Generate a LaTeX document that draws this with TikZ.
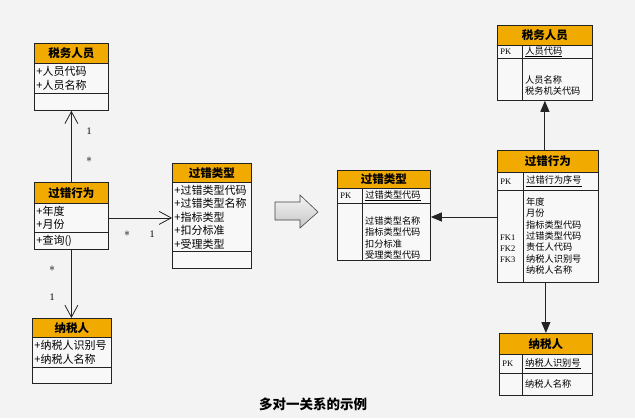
\documentclass[tikz,border=0pt]{standalone}
\usepackage{fontspec}
\setmainfont{Noto Sans CJK SC}
\newfontfamily\keyfont{Liberation Serif}
\usetikzlibrary{arrows.meta,calc}
\definecolor{HdrClr}{RGB}{240,170,0}
\definecolor{BgClr}{RGB}{243,243,243}
\definecolor{CellClr}{RGB}{248,248,248}
\definecolor{LineClr}{RGB}{35,35,35}

\begin{document}
\begin{tikzpicture}[x=1pt,y=-1pt,
  hdr/.style={draw=LineClr,fill=HdrClr,line width=.8pt,inner sep=0pt,anchor=north west,font=\bfseries\fontsize{11.5}{13}\selectfont},
  cell/.style={draw=LineClr,fill=CellClr,line width=.8pt,inner sep=0pt,anchor=north west},
  umlbody/.style={cell,align=left,inner xsep=2pt,font=\fontsize{11}{13.5}\selectfont},
  keycell/.style={cell,align=left,inner xsep=3pt,font=\keyfont\fontsize{8.5}{11.4}\selectfont},
  fldcell/.style={cell,align=left,inner xsep=3pt,font=\fontsize{9.2}{11.4}\selectfont},
  ertxt/.style={inner sep=0pt,align=left,anchor=north west,font=\fontsize{9.2}{11.4}\selectfont},
  keytxt/.style={inner sep=0pt,align=left,anchor=north west,font=\keyfont\fontsize{8.5}{11.4}\selectfont},
  mult/.style={inner sep=0pt,font=\keyfont\fontsize{10}{12}\selectfont},
  uarr/.style={draw=LineClr,line width=.8pt,-{Straight Barb[length=12pt,width=13pt]}},
  earr/.style={draw=LineClr,line width=1pt,-{Triangle[length=11pt,width=9pt]}}]

\path[fill=BgClr] (0,0) rectangle (635,418);

% class diagram
\node[hdr,minimum width=74pt,minimum height=20pt] (sw-h) at (34,43) {税务人员};
\node[umlbody,text width=70pt,minimum height=30pt] (sw-a) at (34,63) {+人员代码\\+人员名称};
\node[umlbody,text width=70pt,minimum height=17pt] (sw-m) at (34,93) {};

\node[hdr,minimum width=74pt,minimum height=21pt] (gx-h) at (34,182) {过错行为};
\node[umlbody,text width=70pt,minimum height=29pt] (gx-a) at (34,203) {+年度\\+月份};
\node[umlbody,text width=70pt,minimum height=17pt] (gx-m) at (34,232) {+查询()};

\node[hdr,minimum width=79pt,minimum height=19pt] (gl-h) at (172,163) {过错类型};
\node[umlbody,text width=75pt,minimum height=69pt] (gl-a) at (172,182) {+过错类型代码\\+过错类型名称\\+指标类型\\+扣分标准\\+受理类型};
\node[umlbody,text width=75pt,minimum height=17pt] (gl-m) at (172,251) {};

\node[hdr,minimum width=79pt,minimum height=19pt] (ns-h) at (32,318) {纳税人};
\node[umlbody,text width=75pt,minimum height=30pt] (ns-a) at (32,337) {+纳税人识别号\\+纳税人名称};
\node[umlbody,text width=75pt,minimum height=16pt] (ns-m) at (32,367) {};

\draw[uarr] (gx-h.north) -- (sw-m.south);
\draw[uarr] (gx-a.east) -- (gx-a.east -| gl-a.west);
\draw[uarr] (gx-m.south) -- (gx-m.south |- ns-h.north);

\node[mult] (m1) at (89,131) {1};
\node[mult] (m2) at (89,160) {\large$\ast$};
\node[mult] (m3) at (127,234) {\large$\ast$};
\node[mult] (m4) at (152,234) {1};
\node[mult] (m5) at (52,269) {\large$\ast$};
\node[mult] (m6) at (52,297) {1};

% transform arrow
\draw[draw=LineClr!85,line width=.6pt,top color=gray!8,bottom color=gray!45]
  (275,202) -- (300,202) -- (300,195) -- (318,212) -- (300,228) -- (300,220) -- (275,220) -- cycle;

% table diagram
\node[hdr,minimum width=93pt,minimum height=18pt] (egl-h) at (337,170) {过错类型};
\node[keycell,text width=19pt,minimum height=15pt] (egl-pk) at (337,188) {PK};
\node[fldcell,text width=62pt,minimum height=15pt] (egl-pf) at (362,188) {\underline{过错类型代码}};
\node[cell,minimum width=25pt,minimum height=57pt] (egl-bk) at (337,203) {};
\node[cell,minimum width=68pt,minimum height=57pt] (egl-bf) at (362,203) {};
\node[ertxt] (egl-t) at (365,216.4) {过错类型名称\\指标类型代码\\扣分标准\\受理类型代码};

\node[hdr,minimum width=95pt,minimum height=20pt] (esw-h) at (497,25) {税务人员};
\node[keycell,text width=19pt,minimum height=13pt] (esw-pk) at (497,45) {PK};
\node[fldcell,text width=64pt,minimum height=13pt] (esw-pf) at (522,45) {\underline{人员代码}};
\node[cell,minimum width=25pt,minimum height=42pt] (esw-bk) at (497,58) {};
\node[cell,minimum width=70pt,minimum height=42pt] (esw-bf) at (522,58) {};
\node[ertxt] (esw-t) at (525,75.4) {人员名称\\税务机关代码};

\node[hdr,minimum width=101pt,minimum height=22pt] (egx-h) at (497,150) {过错行为};
\node[keycell,text width=20pt,minimum height=18pt] (egx-pk) at (497,172) {PK};
\node[fldcell,text width=69pt,minimum height=18pt] (egx-pf) at (523,172) {\underline{过错行为序号}};
\node[cell,minimum width=26pt,minimum height=92pt] (egx-bk) at (497,190) {};
\node[cell,minimum width=75pt,minimum height=92pt] (egx-bf) at (523,190) {};
\node[ertxt] (egx-t) at (526,197.4) {年度\\月份\\指标类型代码\\过错类型代码\\责任人代码\\纳税人识别号\\纳税人名称};
\node[keytxt] (egx-k) at (500,234.2) {FK1\\FK2\\FK3};

\node[hdr,minimum width=93pt,minimum height=21pt] (ens-h) at (499,333) {纳税人};
\node[keycell,text width=17pt,minimum height=19pt] (ens-pk) at (499,354) {PK};
\node[fldcell,text width=64pt,minimum height=19pt] (ens-pf) at (522,354) {\underline{纳税人识别号}};
\node[cell,minimum width=23pt,minimum height=22pt] (ens-bk) at (499,373) {};
\node[cell,minimum width=70pt,minimum height=22pt] (ens-bf) at (522,373) {};
\node[ertxt] (ens-t) at (525,379.4) {纳税人名称};

\coordinate (lk) at (497,217);
\draw[earr] (lk) -- (lk -| egl-bf.east);
\draw[earr] (esw-h |- egx-h.north) -- (esw-h |- esw-bf.south);
\draw[earr] (ens-h |- egx-bf.south) -- (ens-h.north);

\node[font=\bfseries\fontsize{13.5}{15}\selectfont] (cap) at (313,404) {多对一关系的示例};

\end{tikzpicture}
\end{document}
